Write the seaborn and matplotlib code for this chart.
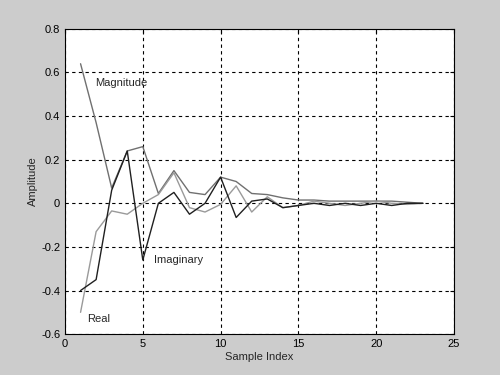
import numpy as np
import pandas as pd
import seaborn as sns
from matplotlib import pyplot as plt

# values
sample_index = list(range(1, 24))
magnitude = [0.64, 0.37, 0.07, 0.24, 0.26, 0.045, 0.15, 0.05, 0.04, 0.12,
             0.10, 0.045, 0.04, 0.025, 0.015, 0.015, 0.01, 0.01, 0.01, 0.01,
             0.01, 0.005, 0.0]
real = [-0.50, -0.13, -0.035, -0.05, 0.0, 0.04, 0.14, -0.02, -0.04, -0.005,
        0.08, -0.04, 0.03, -0.02, -0.01, 0.01, 0.0, -0.01, 0.0, 0.01,
        0.0, -0.005, 0.0]
imaginary = [-0.40, -0.35, 0.06, 0.24, -0.26, 0.0, 0.05, -0.05, 0.0, 0.12,
             -0.065, 0.01, 0.02, -0.02, -0.01, 0.0, -0.01, 0.0, -0.01, 0.0,
             -0.01, 0.0, 0.0]

sns.set_style("white")
plt.rcParams["font.family"] = ["Liberation Sans", "DejaVu Sans"]
plt.rcParams["font.size"] = 8

fig = plt.figure(figsize=(5.0, 3.75), dpi=100, facecolor="#cccccc")
ax = fig.add_axes([0.13, 0.109, 0.778, 0.814])
ax.set_facecolor("white")

sns.lineplot(x=sample_index, y=magnitude, color="#707070", linewidth=1, ax=ax)
sns.lineplot(x=sample_index, y=real, color="#9a9a9a", linewidth=1, ax=ax)
sns.lineplot(x=sample_index, y=imaginary, color="#202020", linewidth=1, ax=ax)

ax.text(1.95, 0.54, "Magnitude", fontsize=8)
ax.text(5.7, -0.275, "Imaginary", fontsize=8)
ax.text(1.45, -0.545, "Real", fontsize=8)

ax.set_xlim(0, 25)
ax.set_ylim(-0.6, 0.8)
ax.set_xticks([0, 5, 10, 15, 20, 25])
yt = [-0.6, -0.4, -0.2, 0, 0.2, 0.4, 0.6, 0.8]
ax.set_yticks(yt)
ax.set_yticklabels(["-0.6", "-0.4", "-0.2", "0", "0.2", "0.4", "0.6", "0.8"])
ax.tick_params(direction="in", length=3, width=0.8, top=True, right=True,
               labelsize=8, colors="black")
ax.grid(True, color="black", linestyle=(0, (3, 3)), linewidth=0.8)
for s in ax.spines.values():
    s.set_color("black")
    s.set_linewidth(0.8)

ax.set_xlabel("Sample Index", fontsize=8, labelpad=2)
ax.set_ylabel("Amplitude", fontsize=8, labelpad=2)

plt.savefig("out.png", dpi=100, facecolor=fig.get_facecolor())
